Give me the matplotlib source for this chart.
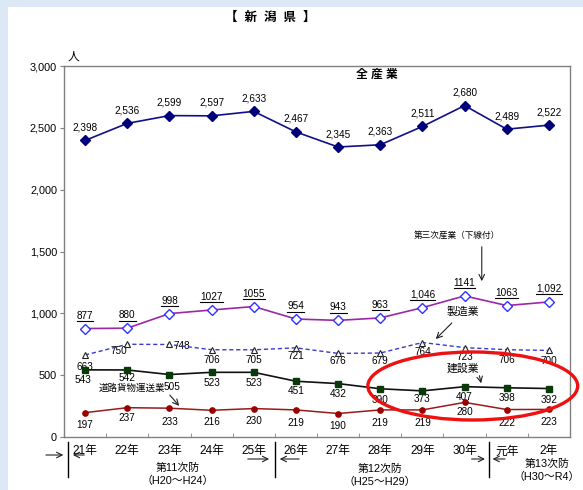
import matplotlib
matplotlib.use("Agg")
import matplotlib.pyplot as plt
import matplotlib.transforms as mtransforms
from matplotlib.patches import Ellipse, Rectangle
from matplotlib.lines import Line2D

plt.rcParams['font.family'] = ['Liberation Sans', 'Noto Sans CJK JP', 'DejaVu Sans']

years = ["21年", "22年", "23年", "24年", "25年", "26年", "27年", "28年", "29年", "30年", "元年", "2年"]
all_ind = [2398, 2536, 2599, 2597, 2633, 2467, 2345, 2363, 2511, 2680, 2489, 2522]
tertiary = [877, 880, 998, 1027, 1055, 954, 943, 963, 1046, 1141, 1063, 1092]
tertiary_labels = ["877", "880", "998", "1027", "1055", "954", "943", "963", "1,046", "1141", "1063", "1,092"]
manufacturing = [663, 750, 748, 706, 705, 721, 676, 679, 764, 723, 706, 700]
construction = [543, 542, 505, 523, 523, 451, 432, 390, 373, 407, 398, 392]
road_freight = [197, 237, 233, 216, 230, 219, 190, 219, 219, 280, 222, 223]
yticks = [0, 500, 1000, 1500, 2000, 2500, 3000]
ytick_labels = ["0", "500", "1,000", "1,500", "2,000", "2,500", "3,000"]

W, H = 583, 490
fig = plt.figure(figsize=(W / 100, H / 100), dpi=100)
fig.patch.set_facecolor('#dde8f5')
fig.patches.append(Rectangle((8 / W, 0), 1 - 8 / W, (H - 7) / H, transform=fig.transFigure,
                             facecolor='white', edgecolor='none', zorder=-10))

ax_l, ax_r, ax_t, ax_b = 64, 570, 66, 437
ax = fig.add_axes([ax_l / W, (H - ax_b) / H, (ax_r - ax_l) / W, (ax_b - ax_t) / H])
ax.set_zorder(1)
ax.set_facecolor('white')
x = list(range(len(years)))
ax.set_xlim(-0.5, 11.5)
ax.set_ylim(0, 3000)
for s in ax.spines.values():
    s.set_color('#808080')
    s.set_linewidth(1.0)

ax.set_yticks(yticks)
ax.set_yticklabels(ytick_labels)
ax.tick_params(axis='y', direction='out', length=3, labelsize=7.8, pad=2, color='#808080')
ax.set_xticks(x)
ax.set_xticklabels(years)
ax.tick_params(axis='x', which='major', length=0, labelsize=8.5, pad=6)
ax.set_xticks([i + 0.5 for i in range(11)], minor=True)
ax.tick_params(axis='x', which='minor', direction='in', length=3, color='#808080')

# series
ax.plot(x, all_ind, color='#10108a', lw=1.2, marker='D', ms=4.8, mfc='#00007a', mec='#00007a', zorder=5)
ax.plot(x, tertiary, color='#9c27a8', lw=1.2, marker='D', ms=5.5, mfc='white', mec='#3030ff', mew=1.0, zorder=5)
ax.plot(x, manufacturing, color='#3a3ad0', lw=1.0, ls=(0, (3, 2)), marker='^', ms=5, mfc='white', mec='#222222', mew=0.8, zorder=5)
ax.plot(x, construction, color='#111111', lw=1.2, marker='s', ms=4.2, mfc='#0a3a0a', mec='#0a3a0a', zorder=5)
ax.plot(x, road_freight, color='#9a1a1a', lw=1.1, marker='o', ms=3.8, mfc='#9a0000', mec='#9a0000', zorder=5)

P = 1 / 1.389  # px -> pt
lab_fs = 7.2

for i, v in enumerate(all_ind):
    ax.annotate(f"{v:,}", (i, v), xytext=(0, 13 * P), textcoords='offset points',
                ha='center', va='center', fontsize=lab_fs)

third_texts = []
for i, v in enumerate(tertiary):
    t = ax.annotate(tertiary_labels[i], (i, v), xytext=(0, 13 * P), textcoords='offset points',
                    ha='center', va='center', fontsize=lab_fs)
    third_texts.append(t)

manu_off = [(0, -12), (-8, -7), (12, -2), (0, -10), (0, -10), (0, -8), (0, -8), (0, -8), (0, -9), (0, -9), (0, -10), (0, -11)]
for i, v in enumerate(manufacturing):
    dx, dy = manu_off[i]
    ax.annotate(str(v), (i, v), xytext=(dx * P, dy * P), textcoords='offset points',
                ha='center', va='center', fontsize=lab_fs)

cons_off = [(-2, -10), (0, -8), (3, -12), (0, -11), (0, -11), (0, -10), (0, -10), (0, -11), (0, -8), (0, -10), (0, -10), (0, -11)]
for i, v in enumerate(construction):
    dx, dy = cons_off[i]
    ax.annotate(str(v), (i, v), xytext=(dx * P, dy * P), textcoords='offset points',
                ha='center', va='center', fontsize=lab_fs)

road_off = [(0, -12), (0, -10), (0, -14), (0, -12), (0, -12), (0, -13), (0, -12), (0, -13), (0, -13), (0, -10), (0, -13), (0, -13)]
for i, v in enumerate(road_freight):
    dx, dy = road_off[i]
    ax.annotate(str(v), (i, v), xytext=(dx * P, dy * P), textcoords='offset points',
                ha='center', va='center', fontsize=lab_fs)

# series annotations
def idx(px):
    return (px - 85) / 42.2

def val(py):
    return (ax_b - py) / ((ax_b - ax_t) / 3000)

ax.text(idx(377), val(75), "全 産 業", ha='center', va='center', fontsize=8.5, fontweight='bold')
ax.text(idx(457), val(235), "第三次産業（下線付）", ha='center', va='center', fontsize=6.2)
ax.annotate('', xy=(idx(482), val(284)), xytext=(idx(482), val(244)),
            arrowprops=dict(arrowstyle='->', lw=0.8, color='#222222'))
ax.text(idx(463), val(312), "製造業", ha='center', va='center', fontsize=7.8)
ax.annotate('', xy=(idx(434), val(341)), xytext=(idx(454), val(321)),
            arrowprops=dict(arrowstyle='->', lw=0.8, color='#222222'))
ax.text(idx(463), val(369), "建設業", ha='center', va='center', fontsize=7.8)
ax.annotate('', xy=(idx(482), val(386)), xytext=(idx(479), val(373)),
            arrowprops=dict(arrowstyle='->', lw=0.8, color='#222222'))
ax.text(idx(132), val(388), "道路貨物運送業", ha='center', va='center', fontsize=6.8)
ax.annotate('', xy=(idx(181), val(408)), xytext=(idx(168), val(393)),
            arrowprops=dict(arrowstyle='->', lw=0.8, color='#222222'))

ell = Ellipse((idx(473), val(386)), width=210 / 42.2, height=68 * 3000 / (ax_b - ax_t),
              fill=False, edgecolor='#ee1111', lw=2.4, clip_on=False, zorder=6)
ax.add_patch(ell)

# below axis: period markers
blend = mtransforms.blended_transform_factory(ax.transData, ax.transAxes)

def yb(py):
    return (ax_b - py) / (ax_b - ax_t)

for px in (68, 275, 489):
    ax.plot([idx(px), idx(px)], [yb(442), yb(477)], color='black', lw=1, transform=blend, clip_on=False)

arrows = [((43, 66), 455), ((87, 70), 455), ((245, 272), 459), ((302, 277), 459), ((469, 488), 459), ((508, 490), 459)]
for (x0, x1), py in arrows:
    ax.annotate('', xy=(idx(x1), yb(py)), xytext=(idx(x0), yb(py)), xycoords=blend, textcoords=blend,
                arrowprops=dict(arrowstyle='->', lw=0.8, color='#222222'), annotation_clip=False)

periods = [("第11次防", "（H20～H24）", 178, 468), ("第12次防", "（H25～H29）", 380, 469), ("第13次防", "（H30～R4）", 547, 464)]
for a, b, px, py in periods:
    ax.text(idx(px), yb(py), a, transform=blend, ha='center', va='center', fontsize=7.8, clip_on=False)
    ax.text(idx(px), yb(py + 13), b, transform=blend, ha='center', va='center', fontsize=7.8, clip_on=False)

fig.text(270 / W, 1 - 18 / H, "【  新  潟  県  】", ha='center', va='center', fontsize=9, fontweight='bold')
fig.text(73 / W, 1 - 57 / H, "人", ha='center', va='center', fontsize=8.5)

# underline tertiary labels
fig.canvas.draw()
r = fig.canvas.get_renderer()
for t in third_texts:
    bb = t.get_window_extent(renderer=r)
    fig.lines.append(Line2D([bb.x0 / W, bb.x1 / W], [(bb.y0 - 0.5) / H, (bb.y0 - 0.5) / H],
                            transform=fig.transFigure, color='black', lw=0.8, zorder=5))

fig.savefig("out.png", dpi=100)
